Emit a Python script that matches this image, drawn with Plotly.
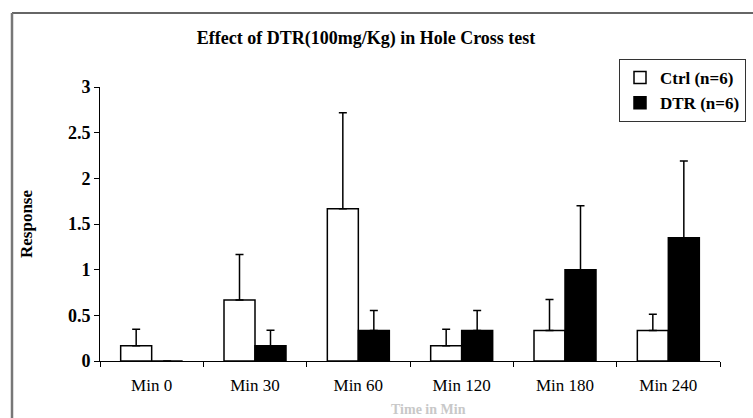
import plotly.graph_objects as go

categories = ["Min 0", "Min 30", "Min 60", "Min 120", "Min 180", "Min 240"]
ctrl_mean = [0.167, 0.667, 1.667, 0.167, 0.333, 0.333]
ctrl_err = [0.18, 0.5, 1.05, 0.18, 0.34, 0.18]
dtr_mean = [0.0, 0.167, 0.333, 0.333, 1.0, 1.35]
dtr_err = [0.0, 0.17, 0.22, 0.22, 0.7, 0.84]
yticks = [0, 0.5, 1, 1.5, 2, 2.5, 3]
ytick_labels = ["0", "0.5", "1", "1.5", "2", "2.5", "3"]

SERIF = "Liberation Serif"

fig = go.Figure()
fig.add_trace(go.Bar(
    name="Ctrl (n=6)", x=categories, y=ctrl_mean,
    marker=dict(color="white", line=dict(color="black", width=1.5)),
    error_y=dict(type="data", array=ctrl_err, arrayminus=[0] * len(ctrl_err),
                 symmetric=False, color="black", thickness=1.5, width=4),
))
fig.add_trace(go.Bar(
    name="DTR (n=6)", x=categories, y=dtr_mean,
    marker=dict(color="black", line=dict(color="black", width=1.5)),
    error_y=dict(type="data", array=dtr_err, arrayminus=[0] * len(dtr_err),
                 symmetric=False, color="black", thickness=1.5, width=4),
))

fig.update_layout(
    width=753, height=418,
    margin=dict(l=100, r=33, t=87, b=57, autoexpand=False),
    paper_bgcolor="white", plot_bgcolor="white",
    barmode="group", bargap=0.4, bargroupgap=0,
    font=dict(family=SERIF, color="black"),
    title=dict(text="Effect of DTR(100mg/Kg) in Hole Cross test",
               x=(366 / 753), xanchor="center", y=1 - 38 / 418, yanchor="middle",
               font=dict(family=SERIF, size=18, weight="bold", color="black")),
    legend=dict(x=(619 - 100) / 620, y=(361 - 59) / 274, xanchor="left", yanchor="top",
                bordercolor="#333", borderwidth=1, bgcolor="white",
                font=dict(family=SERIF, size=17, weight="bold", color="black"),
                tracegroupgap=0, itemwidth=30),
    showlegend=True,
)

fig.update_yaxes(
    range=[0, 3], tickvals=yticks, ticktext=ytick_labels,
    showline=True, linecolor="black", linewidth=1, ticks="outside", ticklen=5,
    tickcolor="black", showgrid=False, zeroline=False,
    tickfont=dict(family=SERIF, size=18, weight="bold", color="black"),
    title=dict(text="Response", standoff=30,
               font=dict(family=SERIF, size=17, weight="bold", color="black")),
)
fig.update_xaxes(
    showline=True, linecolor="black", linewidth=1, ticks="outside", ticklen=5,
    tickcolor="black", tickson="boundaries", showgrid=False,
    tickfont=dict(family=SERIF, size=17, color="black"),
    ticklabelstandoff=9,
)

# x axis title, faint at the bottom edge of the picture
fig.add_annotation(text="Time in Min", xref="paper", yref="paper",
                   x=(428 - 100) / 620, y=(361 - 409) / 274, yanchor="middle",
                   showarrow=False, font=dict(family=SERIF, size=14, weight="bold", color="#c8c8c8"))

# outer frame lines of the original figure
fig.add_shape(type="line", xref="paper", yref="paper",
              x0=(12 - 100) / 620, x1=(780 - 100) / 620,
              y0=(361 - 13) / 274, y1=(361 - 13) / 274,
              line=dict(color="#333", width=1.5))
fig.add_shape(type="line", xref="paper", yref="paper",
              x0=(12 - 100) / 620, x1=(12 - 100) / 620,
              y0=(361 - 13) / 274, y1=(361 - 440) / 274,
              line=dict(color="#777", width=2.5))

fig.write_html("out.html")
